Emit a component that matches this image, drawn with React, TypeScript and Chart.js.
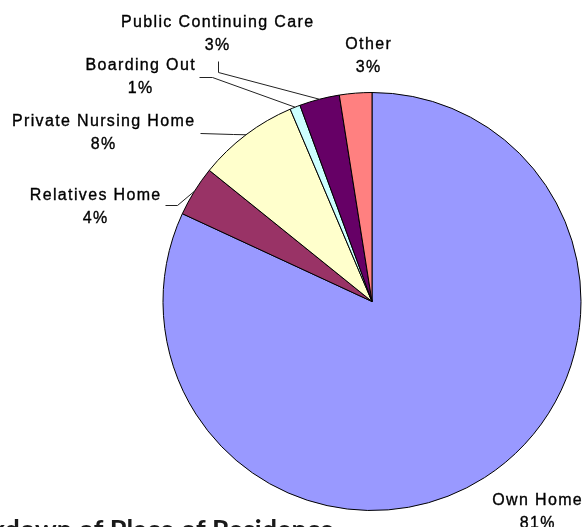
import React, { useEffect, useRef } from "react";
import { Chart, registerables } from "chart.js";

Chart.register(...registerables);

// ---- data ----
const categories = [
  "Own Home",
  "Relatives Home",
  "Private Nursing Home",
  "Boarding Out",
  "Public Continuing Care",
  "Other",
];
const values = [81.9, 3.9, 7.8, 0.8, 3.1, 2.5];
const pctLabels = ["81%", "4%", "8%", "1%", "3%", "3%"];
const titleText = "Breakdown of Place of Residence";

// ---- styles / layout ----
const colors = ["#9999FF", "#993366", "#FFFFCC", "#CCFFFF", "#660066", "#FF8080"];
const labelAnchors = [
  { x: 537, y: 505 },
  { x: 95, y: 200 },
  { x: 103, y: 126 },
  { x: 140, y: 70 },
  { x: 217, y: 27 },
  { x: 368, y: 49 },
];
const leaderBends: (number[][] | null)[] = [
  null,
  [[165, 205], [177, 205]],
  [[200, 133], [233, 134]],
  [[199, 77], [212, 77]],
  [[218, 61], [218, 72]],
  null,
];

const labelPlugin = {
  id: "excelLabels",
  afterDraw(chart: any) {
    const ctx = chart.ctx as CanvasRenderingContext2D;
    const meta = chart.getDatasetMeta(0);
    ctx.save();
    // leader lines
    ctx.strokeStyle = "#222";
    ctx.lineWidth = 1;
    meta.data.forEach((arc: any, i: number) => {
      const bends = leaderBends[i];
      if (!bends) return;
      const mid = (arc.startAngle + arc.endAngle) / 2;
      const px = arc.x + Math.cos(mid) * arc.outerRadius;
      const py = arc.y + Math.sin(mid) * arc.outerRadius;
      ctx.beginPath();
      ctx.moveTo(bends[0][0] + 0.5, bends[0][1] + 0.5);
      for (let k = 1; k < bends.length; k++) ctx.lineTo(bends[k][0] + 0.5, bends[k][1] + 0.5);
      ctx.lineTo(px, py);
      ctx.stroke();
    });
    // labels
    ctx.fillStyle = "#000";
    ctx.strokeStyle = "#000";
    ctx.lineWidth = 0.35;
    ctx.font = "16px 'Liberation Sans', Arial, sans-serif";
    (ctx as any).letterSpacing = "1.35px";
    ctx.textAlign = "center";
    ctx.textBaseline = "alphabetic";
    categories.forEach((c, i) => {
      const a = labelAnchors[i];
      ctx.fillText(c, a.x + 0.7, a.y);
      ctx.strokeText(c, a.x + 0.7, a.y);
      ctx.fillText(pctLabels[i], a.x + 0.7, a.y + 23);
      ctx.strokeText(pctLabels[i], a.x + 0.7, a.y + 23);
    });
    // title (partly outside the visible area, as in the source)
    (ctx as any).letterSpacing = "0px";
    ctx.font = "bold 27px Lato, 'Open Sans', sans-serif";
    ctx.fillStyle = "#1a1a1a";
    ctx.textAlign = "left";
    const lead = ctx.measureText("Break").width;
    ctx.fillText(titleText, 5 - lead, 539);
    ctx.restore();
  },
};

export default function App() {
  const ref = useRef<HTMLCanvasElement | null>(null);
  useEffect(() => {
    if (!ref.current) return;
    const chart = new Chart(ref.current, {
      type: "pie",
      data: {
        labels: categories,
        datasets: [
          {
            data: values,
            backgroundColor: colors,
            borderColor: "#000",
            borderWidth: 1,
            hoverOffset: 0,
          },
        ],
      },
      options: {
        responsive: false,
        animation: false,
        radius: 209,
        layout: { padding: { left: 160, right: 0, top: 76, bottom: 0 } },
        plugins: {
          legend: { display: false },
          tooltip: { enabled: false },
          title: { display: false },
        },
      } as any,
      plugins: [labelPlugin],
    });
    return () => chart.destroy();
  }, []);
  return (
    <div style={{ position: "absolute", left: 0, top: 0, width: 584, height: 527, background: "#fff" }}>
      <canvas ref={ref} width={584} height={527} />
    </div>
  );
}
